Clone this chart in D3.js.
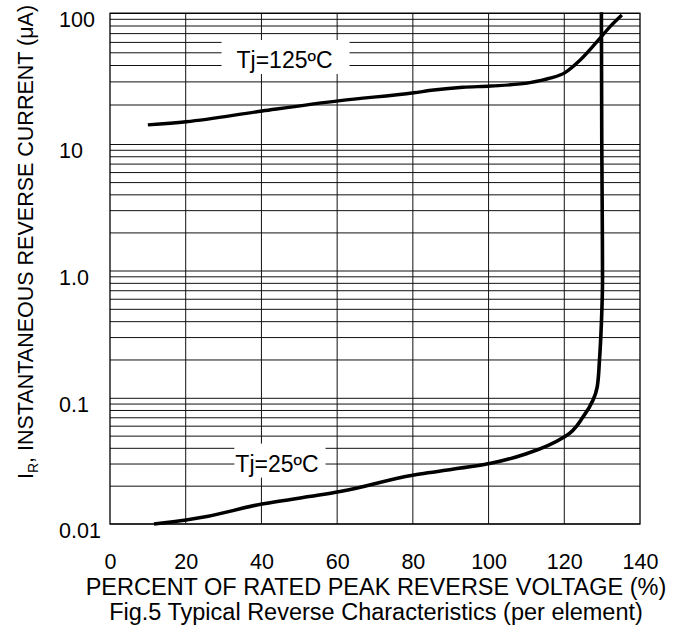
<!DOCTYPE html>
<html>
<head>
<meta charset="utf-8">
<script src="https://cdn.jsdelivr.net/npm/d3@7"></script>
<style>
  body { margin: 0; background: #fff; }
  text { font-family: "Liberation Sans", Arial, Helvetica, sans-serif; fill: #000; }
</style>
</head>
<body>
<svg class="chart"></svg>
<script>
// ---- data ----
var xTicks = [0, 20, 40, 60, 80, 100, 120, 140];
var yTicks = [0.01, 0.1, 1, 10, 100];
var yTickLabels = ["0.01", "0.1", "1.0", "10", "100"];

// [percent of rated voltage, reverse current uA]
var curve125 = [
  [10.0, 14.1], [20.1, 14.9], [40.2, 18.0], [60.8, 21.6], [80.3, 24.8],
  [85.5, 26.0], [93.2, 27.3], [100.6, 27.9], [110.9, 29.6], [116.2, 32.0],
  [120.2, 35.3], [124.2, 44.0], [129.4, 64.4], [132.1, 79.1], [135.2, 97.0]
];
var curve25 = [
  [11.6, 0.0100], [20.1, 0.01076], [40.2, 0.01443], [60.8, 0.01812], [80.3, 0.02455],
  [100.6, 0.0304], [110.9, 0.0370], [120.2, 0.0496], [125.0, 0.0714], [127.6, 0.0969],
  [128.7, 0.123], [129.3, 0.200], [129.8, 0.388], [130.1, 0.85], [130.0, 3.64],
  [129.9, 10.8], [129.8, 102]
];
var labels = [
  {text: "Tj=125ºC", x: 46.1, y: 38.3},
  {text: "Tj=25ºC", x: 44.1, y: 0.0261}
];

// ---- layout ----
var W = 675, H = 628;
var left = 110, right = 640;
// decade lines are not quite evenly spaced on the original sheet
var decadeY = [524, 398.3, 271, 144.5, 13.3];

var svg = d3.select(".chart").attr("width", W).attr("height", H);

var x = d3.scaleLinear().domain([0, 140]).range([left, right]);
var y = d3.scaleLog().domain(yTicks).range(decadeY);

// grid
var hLines = [];
yTicks.slice(0, -1).forEach(function(d) {
  d3.range(1, 10).forEach(function(k) { hLines.push(d * k); });
});
hLines.push(100);

var grid = svg.append("g").attr("stroke", "#111").attr("stroke-width", 1);
grid.selectAll("line.h").data(hLines).enter().append("line")
  .attr("class", "h")
  .attr("x1", x(0)).attr("x2", x(140))
  .attr("y1", function(d) { return y(d); })
  .attr("y2", function(d) { return y(d); });
grid.selectAll("line.v").data(xTicks.slice(1, -1)).enter().append("line")
  .attr("class", "v")
  .attr("x1", function(d) { return x(d); })
  .attr("x2", function(d) { return x(d); })
  .attr("y1", y(100)).attr("y2", y(0.01));

svg.append("rect")
  .attr("x", x(0)).attr("y", y(100))
  .attr("width", x(140) - x(0)).attr("height", y(0.01) - y(100))
  .attr("fill", "none").attr("stroke", "#000").attr("stroke-width", 1.3);

// curve labels on white boxes
var boxPad = [{l: 15, r: 17}, {l: 1, r: 7}];
labels.forEach(function(lb, i) {
  var g = svg.append("g");
  var box = g.append("rect").attr("fill", "#fff");
  var t = g.append("text")
    .attr("x", x(lb.x)).attr("y", y(lb.y))
    .attr("text-anchor", "middle")
    .style("font-size", "23px")
    .text(lb.text);
  var b = t.node().getBBox();
  box.attr("x", b.x - boxPad[i].l).attr("y", b.y - 7)
    .attr("width", b.width + boxPad[i].l + boxPad[i].r)
    .attr("height", b.height + 8);
});

// curves
var line125 = d3.line().curve(d3.curveMonotoneX)
  .x(function(d) { return x(d[0]); })
  .y(function(d) { return y(d[1]); });
var line25 = d3.line().curve(d3.curveMonotoneY)
  .x(function(d) { return x(d[0]); })
  .y(function(d) { return y(d[1]); });

svg.append("path").datum(curve125)
  .attr("d", line125)
  .attr("fill", "none").attr("stroke", "#000").attr("stroke-width", 3.4);
svg.append("path").datum(curve25)
  .attr("d", line25)
  .attr("fill", "none").attr("stroke", "#000").attr("stroke-width", 3.6);

// axes
var yAxis = svg.append("g")
  .attr("transform", "translate(" + left + ",0)")
  .call(d3.axisLeft(y).tickValues(yTicks).tickSize(0)
    .tickFormat(function(d, i) { return yTickLabels[i]; }));
yAxis.select(".domain").remove();
yAxis.selectAll("text")
  .attr("x", -51).attr("dy", null).attr("y", 13)
  .attr("text-anchor", "start")
  .style("font-size", "21.5px");

var xAxis = svg.append("g")
  .attr("transform", "translate(0," + y(0.01) + ")")
  .call(d3.axisBottom(x).tickValues(xTicks).tickSize(0));
xAxis.select(".domain").remove();
xAxis.selectAll("text")
  .attr("dy", null).attr("y", 45)
  .style("font-size", "21.5px");
svg.selectAll(".tick text").attr("fill", "#000").attr("font-family", null);

// titles
svg.append("text")
  .attr("x", 376).attr("y", 595)
  .attr("text-anchor", "middle")
  .style("font-size", "23.5px")
  .text("PERCENT OF RATED PEAK REVERSE VOLTAGE (%)");
svg.append("text")
  .attr("x", 376).attr("y", 620)
  .attr("text-anchor", "middle")
  .style("font-size", "23.5px")
  .text("Fig.5 Typical Reverse Characteristics (per element)");

var yTitle = svg.append("text")
  .attr("transform", "translate(33,242) rotate(-90)")
  .attr("text-anchor", "middle")
  .style("font-size", "21.5px");
yTitle.append("tspan").text("I");
yTitle.append("tspan").attr("dy", 5).style("font-size", "14px").text("R");
yTitle.append("tspan").attr("dy", -5).text(", INSTANTANEOUS REVERSE CURRENT (μA)");
</script>
</body>
</html>
